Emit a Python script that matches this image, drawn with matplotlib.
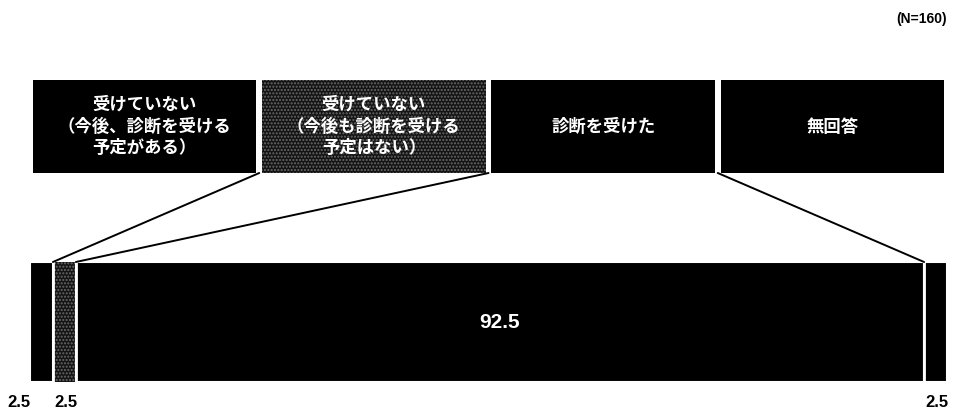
import matplotlib
matplotlib.use('Agg')
import matplotlib.pyplot as plt
import matplotlib.patches as patches
from matplotlib.patches import ConnectionPatch
import numpy as np

plt.rcParams['font.family'] = ['Noto Sans CJK JP', 'DejaVu Sans']

categories = ['受けていない\n（今後、診断を受ける\n予定がある）',
              '受けていない\n（今後も診断を受ける\n予定はない）',
              '診断を受けた',
              '無回答']
values = [2.5, 2.5, 92.5, 2.5]
n_label = '(N=160)'

face = ['#000000', '#141414', '#000000', '#000000']
hatch = [None, '.....', None, None]
hatch_col = '#6a6a6a'

W, H = 956, 419
fig = plt.figure(figsize=(W / 100, H / 100), dpi=100)

# stacked bar (percent scale)
ax_bar = fig.add_axes([30 / W, (H - 382) / H, 917 / W, 120 / H])
left = np.concatenate([[0], np.cumsum(values)[:-1]])
bars = ax_bar.barh(0.5, values, left=left, height=1.0, color=face,
                   edgecolor='white', linewidth=1.5)
for b, h in zip(bars, hatch):
    if h:
        b.set_hatch(h)
        b.set_edgecolor(hatch_col)
        b.set_linewidth(0)
# white separators between segments
for x in np.cumsum(values)[:-1]:
    ax_bar.axvline(x, color='white', lw=2)
ax_bar.set_xlim(0, 100)
ax_bar.set_ylim(0, 1)
ax_bar.axis('off')

num_font = dict(family=['Liberation Sans', 'DejaVu Sans'], weight='bold')
for i, (l, v) in enumerate(zip(left, values)):
    if v > 10:
        ax_bar.text(l + v / 2, 0.5, f'{v}', ha='center', va='center',
                    color='white', fontsize=15, **num_font)
    else:
        if i == 0:
            ax_bar.text(l + 0.1, -0.17, f'{v}', ha='right', va='center',
                        color='black', fontsize=12, **num_font)
        else:
            ax_bar.text(l + v / 2 + 0.2, -0.17, f'{v}', ha='center', va='center',
                        color='black', fontsize=12, **num_font)

# legend boxes
ax_leg = fig.add_axes([30 / W, (H - 173) / H, 917 / W, 93 / H])
ax_leg.set_xlim(0, len(categories))
ax_leg.set_ylim(0, 1)
ax_leg.axis('off')
gap = 0.012
for i, (cat, fc, h) in enumerate(zip(categories, face, hatch)):
    rect = patches.Rectangle((i + gap, 0), 1 - 2 * gap, 1, facecolor=fc,
                             edgecolor=hatch_col if h else fc,
                             hatch=h, linewidth=0)
    ax_leg.add_patch(rect)
    ax_leg.text(i + 0.5, 0.5, cat, ha='center', va='center', color='white',
                fontsize=12.5, linespacing=1.25, fontweight='bold')

# connecting lines
cum = np.cumsum(values)
for k in range(len(values) - 1):
    con = ConnectionPatch(xyA=(k + 1, 0), coordsA=ax_leg.transData,
                          xyB=(cum[k], 1), coordsB=ax_bar.transData,
                          color='black', lw=1.4)
    fig.add_artist(con)

fig.text(947 / W, 1 - 19 / H, n_label, ha='right', va='center', fontsize=10,
         color='black', **num_font)

fig.savefig('out.png', dpi=100, facecolor='white')
